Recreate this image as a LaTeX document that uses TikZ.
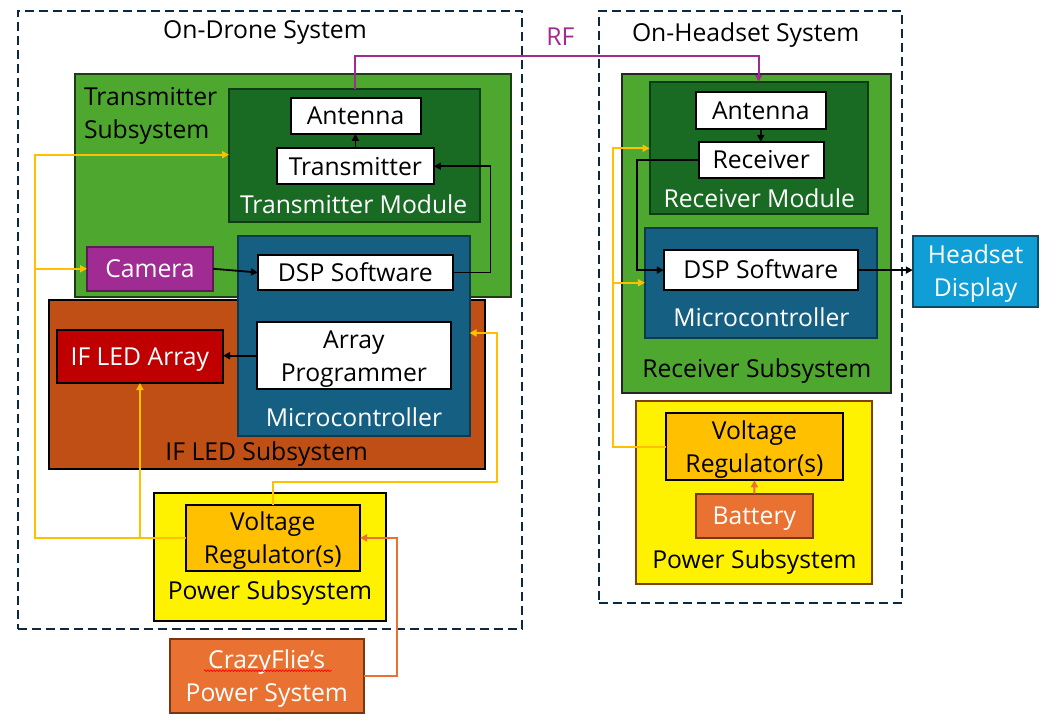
\documentclass[tikz,border=0pt]{standalone}
\usepackage{fontspec}
\setmainfont{Open Sans}
\usetikzlibrary{arrows.meta,decorations.pathmorphing}
\definecolor{lgreen}{HTML}{4EA72E}
\definecolor{lgreenB}{HTML}{1F3D14}
\definecolor{dgreen}{HTML}{196B24}
\definecolor{dgreenB}{HTML}{0E3D13}
\definecolor{mblue}{HTML}{156082}
\definecolor{mblueB}{HTML}{0D3A4F}
\definecolor{brn}{HTML}{C04F15}
\definecolor{ledred}{HTML}{C00000}
\definecolor{purp}{HTML}{A02B93}
\definecolor{purpB}{HTML}{5E1A57}
\definecolor{vreg}{HTML}{FFC000}
\definecolor{orng}{HTML}{E97132}
\definecolor{orngB}{HTML}{7A3512}
\definecolor{hdblue}{HTML}{0F9ED5}
\definecolor{hdblueB}{HTML}{0B4A66}
\definecolor{dashc}{HTML}{0E2841}
\definecolor{pwrB}{HTML}{7F3F0F}
\begin{document}
\begin{tikzpicture}[x=1pt,y=-1pt,
  every node/.style={font=\fontsize{24.7}{33}\selectfont, inner sep=0pt, outer sep=0pt},
  sz/.style 2 args={minimum width=#1pt,minimum height=#2pt},
  box/.style={draw, rectangle, line width=2pt},
  wbox/.style={box, fill=white, draw=black},
  dashbox/.style={draw=dashc, rectangle, line width=1.8pt, dash pattern=on 9pt off 5pt},
  one/.style={text height=17.6pt, text depth=0pt},
  two/.style={align=center, text height=50.6pt, text depth=0pt},
  tip/.style={-{Triangle[length=7pt,width=7pt]}},
  ylw/.style={draw=vreg, line width=2pt, tip},
  org/.style={draw=orng, line width=2pt, tip},
  blk/.style={draw=black, line width=1.8pt, tip},
  rfl/.style={draw=purp, line width=2pt, tip}
]
\useasboundingbox (0,0) rectangle (1060,722);

% system frames
\node[dashbox, sz={504.4}{617.8}] (drone) at (269.8,319.9) {};
\node[dashbox, sz={303}{592}] (head) at (750.1,307) {};
\node[one] (tdrone) at (265,30) {On-Drone System};
\node[one] (thead) at (745.7,32.8) {On-Headset System};
\node[one, text=purp] (trf) at (560.4,36.5) {RF};

% ---------- On-Drone ----------
\node[box, fill=lgreen, draw=lgreenB, sz={436}{223}] (ts) at (293,185.1) {};
\node[anchor=west, align=left, text height=50.6pt, text depth=0pt] (tts) at (84,113.5) {Transmitter\\Subsystem};
\node[box, fill=dgreen, draw=dgreenB, sz={251}{133}] (tm) at (354.5,155.5) {};
\node[one, text=white] (ttm) at (353.7,205) {Transmitter Module};
\node[wbox, one, sz={130.1}{36.2}] (ant1) at (355.55,115.7) {Antenna};
\node[wbox, one, sz={156.8}{36.5}] (tx) at (355.4,166.25) {Transmitter};
\node[box, fill=purp, draw=purpB, text=white, one, sz={126}{43.5}] (cam) at (150,268.75) {Camera};

\node[box, fill=brn, draw=black, sz={436}{169}] (ledsub) at (267,384.5) {};
\node[one] (tled) at (266.7,451.5) {IF LED Subsystem};
\node[box, fill=mblue, draw=mblueB, sz={231.6}{200.2}] (mc1) at (353.8,335.9) {};
\node[one, text=white] (tmc1) at (354,417.7) {Microcontroller};
\node[wbox, one, sz={194.7}{35}] (dsp1) at (355.35,272.5) {DSP Software};
\node[wbox, two, sz={194.2}{66.6}] (ap) at (353.9,355.7) {Array\\Programmer};
\node[box, fill=ledred, draw=black, text=white, one, sz={166.2}{53.5}] (led) at (139.9,356.25) {IF LED Array};

\node[box, fill=yellow, draw=black, sz={232.1}{128.3}] (pw1) at (269.75,556.85) {};
\node[one] (tpw1) at (270,590.7) {Power Subsystem};
\node[box, fill=vreg, draw=black, two, sz={174.5}{66.9}] (vr1) at (272.75,537.95) {Voltage\\Regulator(s)};
\node[box, fill=orng, draw=orngB, text=white, two, sz={194.3}{74.7}] (cf) at (266.75,675.95) {CrazyFlie’s\\Power System};

% ---------- On-Headset ----------
\node[box, fill=lgreen, draw=black!85, sz={268.9}{319.4}] (rs) at (756.35,233.3) {};
\node[one] (trs) at (756.9,368.2) {Receiver Subsystem};
\node[box, fill=dgreen, draw=dgreenB, sz={218.2}{132.7}] (rm) at (758.7,148.15) {};
\node[one, text=white] (trm) at (759.2,198.3) {Receiver Module};
\node[wbox, one, sz={130.5}{36.5}] (ant2) at (760.75,110.45) {Antenna};
\node[wbox, one, sz={125.3}{36.5}] (rx) at (761.25,160.15) {Receiver};
\node[box, fill=mblue, draw=mblueB, sz={232.4}{109.5}] (mc2) at (761.1,282.75) {};
\node[one, text=white] (tmc2) at (761.4,317.6) {Microcontroller};
\node[wbox, one, sz={193.9}{39.6}] (dsp2) at (760.75,270.1) {DSP Software};
\node[box, fill=hdblue, draw=hdblueB, text=white, two, sz={125.6}{70.8}] (hd) at (975.6,271.4) {Headset\\Display};

\node[box, fill=yellow, draw=pwrB, sz={235.8}{183.1}] (pw2) at (754.3,492.85) {};
\node[one] (tpw2) at (754.5,560) {Power Subsystem};
\node[box, fill=vreg, draw=black, two, sz={176.7}{66.9}] (vr2) at (754.45,446.85) {Voltage\\Regulator(s)};
\node[box, fill=orng, draw=orngB, text=white, one, sz={117.6}{44.3}] (bat) at (754.3,515.65) {Battery};

% ---------- connectors ----------
\coordinate (ybus) at (34.8,154.7);
\draw[ylw] (vr1.west) -| (ybus) -- (ybus -| tm.west);
\draw[ylw] (ybus |- cam.west) -- (cam.west);
\draw[ylw] (vr1.west -| led.south) -- (led.south);
\coordinate (yr) at (496.6,333);
\draw[ylw] (vr1.north) -- ++(0,-23) -| (yr) -- (yr -| mc1.east);

\coordinate (hbus) at (612.8,148.3);
\draw[ylw] (vr2.west) -| (hbus) -- (hbus -| rm.west);
\draw[ylw] (hbus |- mc2.west) -- (mc2.west);

\coordinate (ox) at (397,0);
\draw[org] (cf.east) -| (ox |- vr1.east) -- (vr1.east);
\draw[org] (bat.north) -- (vr2.south);

\coordinate (rfy) at (0,56.4);
\draw[rfl] (tm.north) |- (rfy -| rm.north) -- (rm.north);

\draw[blk] (tx.north) -- (tx.north |- ant1.south);
\coordinate (xr) at (490.5,0);
\draw[blk] (dsp1.east) -| (xr |- tx.east) -- (tx.east);
\draw[blk] (cam.east) -- (dsp1.west);
\draw[blk] (ap.west) -- (ap.west -| led.east);
\draw[blk] (ant2.south) -- (ant2.south |- rx.north);
\coordinate (xl) at (636.8,0);
\draw[blk] (rx.west) -| (xl |- dsp2.west) -- (dsp2.west);
\draw[blk] (dsp2.east) -- (dsp2.east -| hd.west);

% spell-check underline
\coordinate (w1) at (204,670.7);
\coordinate (w2) at (331.8,670.7);
\draw[red, line width=0.7pt, decorate, decoration={snake, amplitude=0.8pt, segment length=3pt}] (w1) -- (w2);
\end{tikzpicture}
\end{document}
